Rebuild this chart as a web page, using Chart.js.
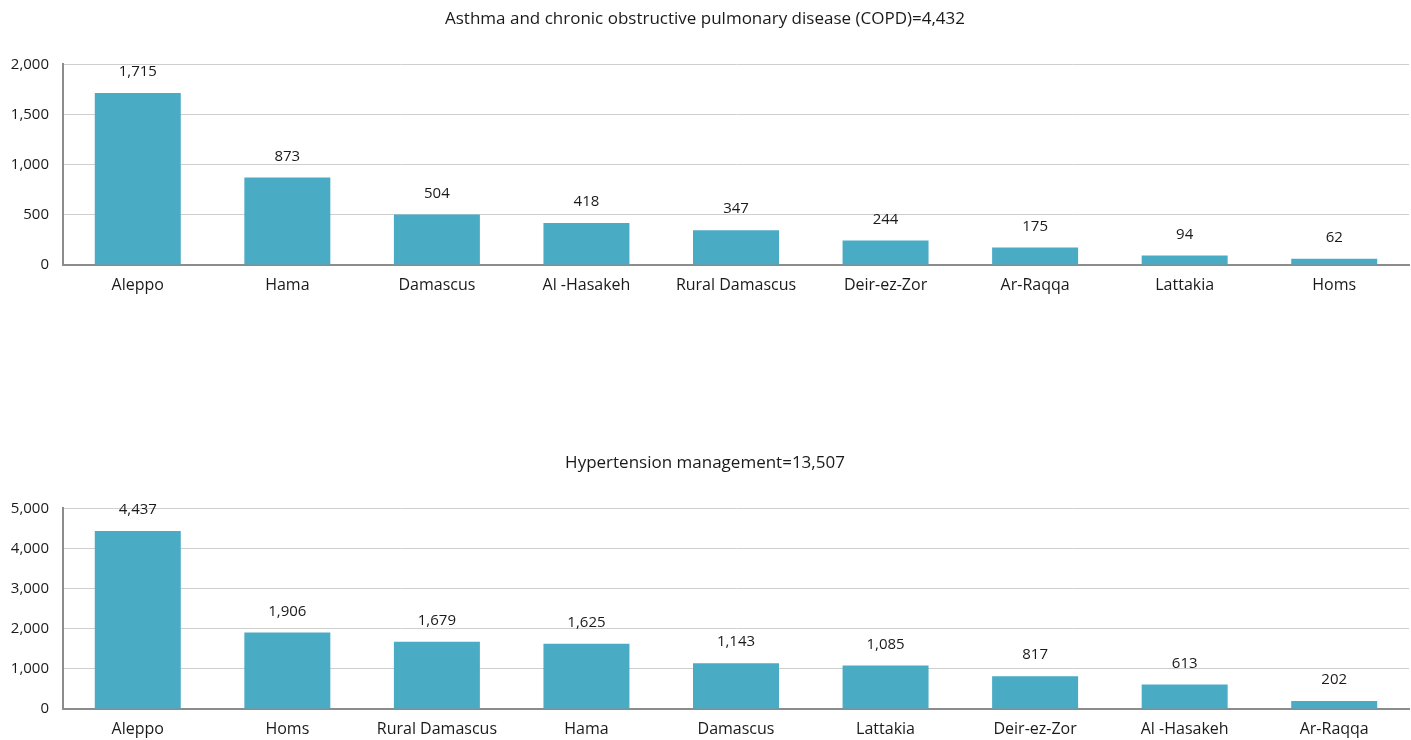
<!DOCTYPE html>
<html>
<head>
<meta charset="utf-8">
<script src="https://cdn.jsdelivr.net/npm/chart.js@4"></script>
<style>
  html, body { margin: 0; padding: 0; background: #fff; }
  .box { position: absolute; left: 0; width: 1411px; }
  #box1 { top: 0; height: 300px; }
  #box2 { top: 444px; height: 296px; }
</style>
</head>
<body>
<div class="box" id="box1"><canvas id="chart-copd"></canvas></div>
<div class="box" id="box2"><canvas id="chart-htn"></canvas></div>
<script>
// --- data ---
const copdTitle = 'Asthma and chronic obstructive pulmonary disease (COPD)=4,432';
const copdLabels = ['Aleppo', 'Hama', 'Damascus', 'Al -Hasakeh', 'Rural Damascus', 'Deir-ez-Zor', 'Ar-Raqqa', 'Lattakia', 'Homs'];
const copdValues = [1715, 873, 504, 418, 347, 244, 175, 94, 62];
const copdTicks = [0, 500, 1000, 1500, 2000];

const htnTitle = 'Hypertension management=13,507';
const htnLabels = ['Aleppo', 'Homs', 'Rural Damascus', 'Hama', 'Damascus', 'Lattakia', 'Deir-ez-Zor', 'Al -Hasakeh', 'Ar-Raqqa'];
const htnValues = [4437, 1906, 1679, 1625, 1143, 1085, 817, 613, 202];
const htnTicks = [0, 1000, 2000, 3000, 4000, 5000];

const FONT = 'Open Sans';
const TEXT = '#1a1a1a';
const BAR = '#4aabc5';

Chart.defaults.font.family = FONT;
Chart.defaults.color = TEXT;

// value labels above bars
const valueLabels = {
  id: 'valueLabels',
  afterDatasetsDraw(chart) {
    const ctx = chart.ctx;
    const ds = chart.data.datasets[0];
    ctx.save();
    ctx.font = '15px ' + FONT;
    ctx.fillStyle = TEXT;
    ctx.textAlign = 'center';
    ctx.textBaseline = 'middle';
    chart.getDatasetMeta(0).data.forEach((bar, i) => {
      ctx.fillText(ds.data[i].toLocaleString('en-US'), bar.x, bar.y - 21);
    });
    ctx.restore();
  }
};

function makeChart(id, title, labels, values, ticks, xHeight) {
  const max = ticks[ticks.length - 1];
  return new Chart(document.getElementById(id), {
    type: 'bar',
    data: {
      labels: labels,
      datasets: [{ data: values, backgroundColor: BAR, categoryPercentage: 1, barPercentage: 0.575 }]
    },
    options: {
      responsive: true,
      maintainAspectRatio: false,
      animation: false,
      layout: { padding: { left: 1, right: 2, top: 0, bottom: 0 } },
      plugins: {
        legend: { display: false },
        tooltip: { enabled: false },
        title: {
          display: true, text: title, color: TEXT,
          font: { family: FONT, size: 17, weight: 'normal' },
          padding: { top: 9, bottom: 35 }
        }
      },
      scales: {
        x: {
          grid: { display: false, drawTicks: false },
          border: { color: '#8c8c8c', width: 2 },
          ticks: { color: TEXT, font: { size: 16 }, padding: 11, maxRotation: 0, autoSkip: false },
          afterFit: s => { s.height = xHeight; }
        },
        y: {
          min: 0, max: max,
          afterBuildTicks: s => { s.ticks = ticks.map(v => ({ value: v })); },
          grid: { color: '#cfcfcf', lineWidth: 1, drawTicks: false },
          border: { color: '#8c8c8c', width: 2 },
          ticks: { color: TEXT, font: { size: 15 }, padding: 14, callback: v => v.toLocaleString('en-US') },
          afterFit: s => { s.width = 62; }
        }
      }
    },
    plugins: [valueLabels]
  });
}

makeChart('chart-copd', copdTitle, copdLabels, copdValues, copdTicks, 35);
makeChart('chart-htn', htnTitle, htnLabels, htnValues, htnTicks, 31);
</script>
</body>
</html>
